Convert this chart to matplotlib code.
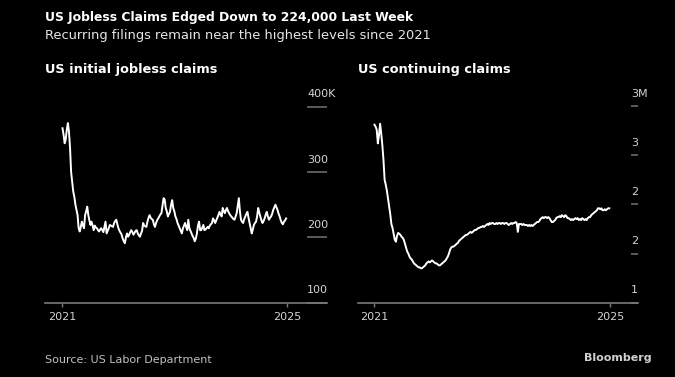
import numpy as np
import pandas as pd
import matplotlib
matplotlib.use("Agg")
import matplotlib.pyplot as plt
from matplotlib.transforms import blended_transform_factory, offset_copy

# weekly data
weeks = pd.date_range("2021-01-02", periods=209, freq="7D")

# initial jobless claims, thousands
initial_claims = [
    367, 357, 344, 350, 365, 375, 362, 337, 300, 285,
    270, 262, 250, 242, 234, 214, 209, 216, 224, 218,
    214, 234, 240, 247, 234, 226, 219, 224, 218, 211,
    218, 215, 214, 211, 209, 212, 214, 211, 208, 216,
    224, 206, 210, 214, 219, 218, 217, 216, 222, 225,
    227, 220, 214, 210, 207, 204, 198, 194, 191, 200,
    206, 201, 204, 208, 211, 208, 204, 207, 210, 211,
    206, 203, 201, 206, 210, 222, 218, 217, 216, 224,
    230, 234, 230, 228, 227, 220, 216, 222, 226, 229,
    232, 235, 237, 248, 260, 258, 245, 240, 232, 236,
    239, 250, 257, 245, 240, 232, 228, 222, 218, 214,
    210, 206, 214, 218, 222, 216, 211, 227, 214, 210,
    206, 202, 199, 194, 198, 206, 218, 224, 211, 211,
    215, 219, 211, 212, 214, 216, 214, 218, 220, 222,
    229, 226, 222, 226, 230, 234, 239, 235, 232, 245,
    240, 237, 242, 245, 240, 237, 234, 232, 230, 228,
    227, 232, 237, 248, 260, 240, 227, 224, 222, 228,
    232, 236, 239, 230, 222, 214, 206, 212, 219, 222,
    224, 232, 245, 238, 232, 226, 222, 225, 229, 235,
    239, 232, 227, 230, 232, 236, 242, 246, 250, 246,
    242, 236, 232, 226, 222, 220, 224, 226, 229,
]

# continuing claims, millions
continuing_claims = [
    2.81, 2.79, 2.76, 2.62, 2.70, 2.82, 2.72, 2.60, 2.45, 2.25,
    2.20, 2.14, 2.06, 1.98, 1.90, 1.80, 1.76, 1.70, 1.64, 1.62,
    1.68, 1.71, 1.70, 1.69, 1.67, 1.66, 1.64, 1.60, 1.56, 1.52,
    1.50, 1.47, 1.45, 1.44, 1.42, 1.40, 1.39, 1.38, 1.37, 1.36,
    1.36, 1.35, 1.35, 1.36, 1.37, 1.38, 1.40, 1.41, 1.42, 1.41,
    1.42, 1.43, 1.42, 1.41, 1.40, 1.40, 1.39, 1.38, 1.38, 1.39,
    1.40, 1.41, 1.42, 1.43, 1.45, 1.47, 1.50, 1.54, 1.56, 1.57,
    1.57, 1.58, 1.59, 1.60, 1.61, 1.63, 1.64, 1.65, 1.66, 1.67,
    1.68, 1.69, 1.69, 1.70, 1.71, 1.72, 1.71, 1.72, 1.73, 1.74,
    1.74, 1.75, 1.76, 1.76, 1.77, 1.77, 1.78, 1.77, 1.78, 1.79,
    1.80, 1.79, 1.81, 1.80, 1.81, 1.81, 1.80, 1.80, 1.81, 1.80,
    1.81, 1.81, 1.80, 1.81, 1.81, 1.80, 1.81, 1.81, 1.80, 1.79,
    1.80, 1.81, 1.80, 1.81, 1.81, 1.82, 1.81, 1.72, 1.80, 1.80,
    1.80, 1.79, 1.80, 1.79, 1.79, 1.79, 1.78, 1.79, 1.78, 1.79,
    1.78, 1.79, 1.80, 1.81, 1.82, 1.82, 1.83, 1.85, 1.86, 1.87,
    1.86, 1.87, 1.87, 1.86, 1.87, 1.86, 1.84, 1.82, 1.82, 1.83,
    1.84, 1.86, 1.87, 1.87, 1.88, 1.87, 1.89, 1.88, 1.87, 1.89,
    1.88, 1.86, 1.86, 1.85, 1.84, 1.85, 1.84, 1.85, 1.86, 1.85,
    1.86, 1.84, 1.85, 1.84, 1.86, 1.85, 1.84, 1.85, 1.84, 1.86,
    1.87, 1.87, 1.89, 1.90, 1.91, 1.92, 1.93, 1.94, 1.96, 1.96,
    1.95, 1.96, 1.94, 1.94, 1.95, 1.94, 1.95, 1.96, 1.96,
]

initial_ticks = [100, 200, 300, 400]
initial_labels = ["100", "200", "300", "400K"]
continuing_ticks = [1.0, 1.5, 2.0, 2.5, 3.0]
continuing_labels = ["1", "2", "2", "3", "3M"]
year_ticks = pd.to_datetime(["2021-01-01", "2025-01-01"])
year_labels = ["2021", "2025"]

AXIS_GRAY = "#7a7a7a"
LABEL_GRAY = "#d4d4d4"

fig = plt.figure(figsize=(6.75, 3.77), dpi=100, facecolor="black")


def draw_panel(rect, values, yticks, ylabels, ylim, pad_days, tick_len, label_dx):
    ax = fig.add_axes(rect, facecolor="black")
    ax.plot(weeks, values, color="white", lw=1.4, solid_joinstyle="round")
    ax.set_ylim(*ylim)
    ax.set_xlim(year_ticks[0] - pd.Timedelta(days=pad_days[0]),
                year_ticks[1] + pd.Timedelta(days=pad_days[1]))
    for side in ["top", "left", "right"]:
        ax.spines[side].set_visible(False)
    ax.spines["bottom"].set_color(AXIS_GRAY)
    ax.spines["bottom"].set_linewidth(1.2)

    ax.set_xticks(year_ticks)
    ax.set_xticklabels(year_labels)
    ax.tick_params(axis="x", colors=AXIS_GRAY, labelcolor=LABEL_GRAY,
                   length=3, width=1, pad=4, labelsize=8)

    ax.yaxis.tick_right()
    ax.set_yticks(yticks)
    ax.tick_params(axis="y", direction="in", length=tick_len, width=1.2,
                   colors="#6a6a6a", labelright=False, labelleft=False)
    trans = blended_transform_factory(ax.transAxes, ax.transData)
    for v, lab in zip(yticks, ylabels):
        ax.text(1, v, lab, ha="left", va="center", color=LABEL_GRAY, fontsize=8,
                transform=offset_copy(trans, fig=fig, x=label_dx, y=9, units="points"),
                clip_on=False)
    return ax


draw_panel([45 / 675, 74.3 / 377, 282 / 675, 196 / 377], initial_claims,
           initial_ticks, initial_labels, (100, 400), (113, 262), 14.4, -14.4)
draw_panel([358 / 675, 74.3 / 377, 280 / 675, 196.7 / 377], continuing_claims,
           continuing_ticks, continuing_labels, (1.0, 3.0), (101, 174), 5, -5)

fig.text(45 / 675, 1 - 17 / 377, "US Jobless Claims Edged Down to 224,000 Last Week",
         color="white", fontsize=8.9, fontweight="bold", va="center")
fig.text(45 / 675, 1 - 35 / 377, "Recurring filings remain near the highest levels since 2021",
         color="#e6e6e6", fontsize=9.4, va="center")
fig.text(45 / 675, 1 - 70 / 377, "US initial jobless claims",
         color="white", fontsize=9.3, fontweight="bold", va="center")
fig.text(358 / 675, 1 - 70 / 377, "US continuing claims",
         color="white", fontsize=9.3, fontweight="bold", va="center")
fig.text(45 / 675, 1 - 360 / 377, "Source: US Labor Department",
         color="#c0c0c0", fontsize=8, va="center")
fig.text(652 / 675, 1 - 358 / 377, "Bloomberg",
         color="#d0d0d0", fontsize=8, fontweight="bold", va="center", ha="right")

fig.savefig("out.png", dpi=100, facecolor="black")
